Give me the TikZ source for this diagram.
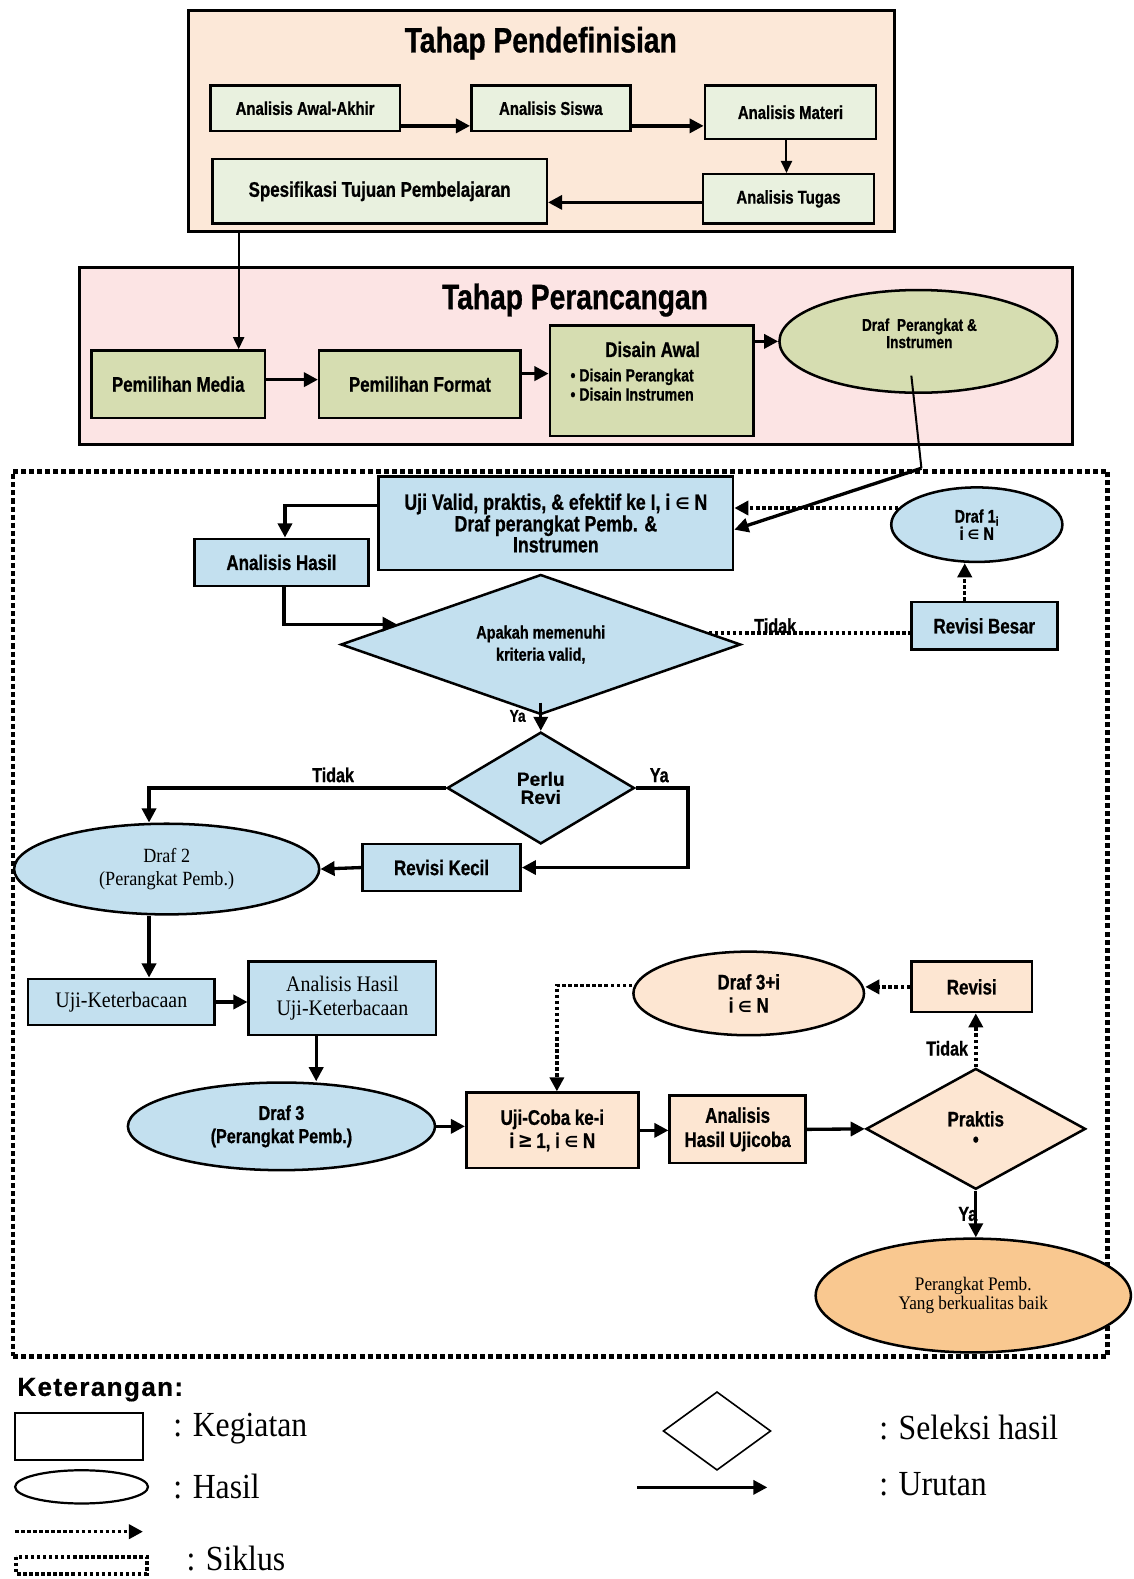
\documentclass[tikz,border=0pt]{standalone}
\usepackage{fontspec}
\setmainfont{Liberation Serif}
\newfontfamily\nb{Liberation Sans Bold}[FakeStretch=0.8,FakeBold=0.8]
\newfontfamily\sbf{Liberation Sans Bold}[FakeBold=0.5]
\newfontfamily\dvs{DejaVu Sans Bold}[Scale=0.72]
\newfontfamily\dvg{DejaVu Sans Bold}[FakeStretch=0.85]
\newfontfamily\nser{Liberation Serif}[FakeStretch=0.9]
\usetikzlibrary{shapes.geometric,arrows.meta}
\definecolor{peachbg}{HTML}{FCE8D8}
\definecolor{greenbox}{HTML}{E9F1DF}
\definecolor{pinkbg}{HTML}{FCE4E4}
\definecolor{olivebox}{HTML}{D6DDB1}
\definecolor{bluebox}{HTML}{C3E0EF}
\definecolor{peachbox}{HTML}{FDE6D2}
\definecolor{orangebox}{HTML}{F9C890}
\newcommand\fsz[2]{\fontsize{#1}{#2}\selectfont}
\newcommand\inN{{\dvs ∈}}
\newcommand\geqN{{\dvg ≥}}
\begin{document}
\begin{tikzpicture}[x=1pt,y=-1pt,
  stageframe/.style={draw, line width=3pt, inner sep=0pt},
  actbox/.style={draw, line width=2.5pt, rectangle, inner sep=0pt, align=center},
  resell/.style={draw, line width=2.5pt, ellipse, inner sep=0pt, align=center},
  seldia/.style={draw, line width=2.5pt, diamond, inner sep=0pt, align=center},
  nbf/.style={font=\nb\fsz{21}{23}},
  arr/.style={line width=3.3pt, -{Triangle[length=14pt,width=14pt]}},
  tarr/.style={line width=2pt, -{Triangle[length=12pt,width=11pt]}},
  dotl/.style={line width=3.5pt, dash pattern=on 3.5pt off 2.5pt},
  dotarr/.style={dotl, -{Triangle[length=14pt,width=14pt]}},
  lbl/.style={font=\nb\fsz{20}{22}, inner sep=0pt},
  legtxt/.style={font=\nser\fsz{35}{38}, anchor=west, inner sep=0pt}
]
\useasboundingbox (0,0) rectangle (1126,1568);
\fill[white] (0,0) rectangle (1126,1568);

% ---------- Tahap Pendefinisian ----------
\node[stageframe, fill=peachbg, minimum width=701pt, minimum height=220pt] (defbox) at (537.5,120) {};
\node[font=\nb\fsz{35}{38}] (t1) at (537,43) {Tahap Pendefinisian};
\node[actbox, fill=greenbox, minimum width=188pt, minimum height=45pt, font=\nb\fsz{18.5}{20}] (aaa) at (303,107.5) {Analisis Awal-Akhir};
\node[actbox, fill=greenbox, minimum width=158pt, minimum height=45pt, font=\nb\fsz{18.5}{20}] (as) at (547,107.5) {Analisis Siswa};
\node[actbox, fill=greenbox, minimum width=170pt, minimum height=53pt, font=\nb\fsz{18.5}{20}] (am) at (785,111.5) {Analisis Materi};
\node[actbox, fill=greenbox, minimum width=170pt, minimum height=49pt, font=\nb\fsz{18.5}{20}] (at) at (783,197.5) {Analisis Tugas};
\node[actbox, fill=greenbox, minimum width=332pt, minimum height=64pt, font=\nb\fsz{21}{23}] (stp) at (377,190) {Spesifikasi Tujuan Pembelajaran};
\draw[arr] ([yshift=-17.5pt]aaa.east) -- ([yshift=-17.5pt]aaa.east -| as.west);
\draw[arr] ([yshift=-17.5pt]as.east) -- ([yshift=-17.5pt]as.east -| am.west);
\draw[tarr] ([xshift=-4pt]am.south) -- ([xshift=-4pt]am.south |- at.north);
\draw[arr] ([yshift=-3.5pt]at.west) -- ([yshift=-3.5pt]at.west -| stp.east);

% ---------- Tahap Perancangan ----------
\node[stageframe, fill=pinkbg, minimum width=986pt, minimum height=175pt] (desbox) at (572,353.5) {};
\node[font=\nb\fsz{35}{38}] (t2) at (571,298) {Tahap Perancangan};
\node[actbox, fill=olivebox, minimum width=172pt, minimum height=67pt, nbf] (pm) at (177,381.5) {Pemilihan Media};
\node[actbox, fill=olivebox, minimum width=200pt, minimum height=67pt, nbf] (pf) at (417,381.5) {Pemilihan Format};
\node[actbox, fill=olivebox, minimum width=202pt, minimum height=110pt] (da) at (647,378) {};
\node[font=\nb\fsz{21}{23}] (dat) at (648,347) {Disain Awal};
\node[font=\nb\fsz{17.5}{19}, align=left, anchor=west] (dab) at (563,382) {\textbullet\ Disain Perangkat\\\textbullet\ Disain Instrumen};
\node[resell, fill=olivebox, minimum width=276pt, minimum height=102pt] (dpi) at (912,339) {};
\node[font=\nb\fsz{17}{17}, align=center] (dpit) at (913,331) {Draf\ \ Perangkat \&\\Instrumen};
\draw[tarr] ([xshift=60pt]pm.north |- defbox.south) -- ([xshift=60pt]pm.north);
\draw[arr] ([yshift=4.5pt]pm.east) -- ([yshift=4.5pt]pm.east -| pf.west);
\draw[arr] ([yshift=10.5pt]pf.east) -- ([yshift=10.5pt]pf.east -| da.west);
\draw[arr] ([yshift=39pt]da.east) -- (dpi.west);

% ---------- Siklus region ----------
\node[draw, line width=4.5pt, dash pattern=on 5pt off 3pt, minimum width=1087pt, minimum height=879pt, inner sep=0pt] (cyc) at (556.5,907.5) {};

\node[actbox, fill=bluebox, minimum width=352pt, minimum height=93pt, font=\nb\fsz{22}{19.5}] (uv) at (552,519.5) {Uji Valid, praktis, \& efektif ke I, i \inN\ N\\Draf perangkat Pemb. \&\\Instrumen};
\node[actbox, fill=bluebox, minimum width=173pt, minimum height=47pt, nbf] (ah) at (279.5,558.5) {Analisis Hasil};
\node[resell, fill=bluebox, minimum width=170pt, minimum height=74pt, font=\nb\fsz{18}{15}] (d1) at (970,521) {Draf 1\textsubscript{i}\\i \inN\ N};
\node[actbox, fill=bluebox, minimum width=145pt, minimum height=47pt, nbf] (rb) at (977.5,621.5) {Revisi Besar};
\node[seldia, fill=bluebox, aspect=2.85, minimum width=397pt, minimum height=139pt, font=\nb\fsz{18}{22}] (ap) at (537,640) {Apakah memenuhi\\kriteria valid,};
\node[seldia, fill=bluebox, aspect=1.68, minimum width=186pt, minimum height=111pt, font=\sbf\fsz{19}{18}] (pr) at (537,782.5) {Perlu\\Revi};
\node[actbox, fill=bluebox, minimum width=157pt, minimum height=47pt, nbf] (rk) at (438.5,861.5) {Revisi Kecil};
\node[resell, fill=bluebox, minimum width=303pt, minimum height=90pt, font=\nser\fsz{20}{22}] (d2) at (165.5,863) {Draf 2\\(Perangkat Pemb.)};
\node[actbox, fill=bluebox, minimum width=185pt, minimum height=46pt, font=\nser\fsz{22}{24}] (uk) at (120.5,995) {Uji-Keterbacaan};
\node[actbox, fill=bluebox, minimum width=186pt, minimum height=73pt, font=\nser\fsz{22}{24}] (ahuk) at (340,991.5) {Analisis Hasil\\Uji-Keterbacaan};
\node[resell, fill=bluebox, minimum width=305pt, minimum height=87pt, font=\nb\fsz{20}{23}] (d3) at (279.5,1118.5) {Draf 3\\(Perangkat Pemb.)};
\node[actbox, fill=peachbox, minimum width=171pt, minimum height=75pt, font=\nb\fsz{21}{23}] (uc) at (548.5,1122.5) {Uji-Coba ke-i\\i\,\geqN\,1, i \inN\ N};
\node[actbox, fill=peachbox, minimum width=135pt, minimum height=67pt, font=\nb\fsz{21}{24}] (ahu) at (732.5,1121.5) {Analisis\\Hasil Ujicoba};
\node[seldia, fill=peachbox, aspect=1.82, minimum width=218pt, minimum height=120pt, font=\nb\fsz{21}{20}] (pk) at (969,1121) {Praktis\\\textbullet};
\node[resell, fill=orangebox, minimum width=313pt, minimum height=113pt, font=\nser\fsz{19}{15}] (pp) at (966.5,1286.5) {Perangkat Pemb.\\Yang berkualitas baik};
\node[actbox, fill=peachbox, minimum width=120pt, minimum height=50pt, nbf] (rv) at (965,980) {Revisi};
\node[resell, fill=peachbox, minimum width=229pt, minimum height=83pt, font=\nb\fsz{21}{23}] (d3i) at (743.5,986.5) {Draf 3+i\\i \inN\ N};

% connectors
\coordinate (bend) at (915,465);
\draw[line width=2pt] ([xshift=-7pt,yshift=-34pt]dpi.center) -- (bend);
\draw[arr] (bend) -- ([yshift=-6.5pt]uv.east);
\draw[dotarr] (d1.168) -- (d1.168 -| uv.east);
\draw[dotarr] ([xshift=-19.5pt]rb.north) -- ([xshift=-19.5pt]rb.north |- d1.south);
\draw[dotl] (ap.4) -- (ap.4 -| rb.west) node[lbl, pos=0.33, yshift=7pt] {Tidak};
\draw[arr] ([yshift=17.5pt]uv.west) -| ([xshift=3.5pt]ah.north);
\draw[arr] ([xshift=2.5pt]ah.south) |- (ap.172.5);
\draw[arr] ([yshift=13pt]ap.south) -- (pr.north);
\node[lbl, font=\nb\fsz{17}{19}] (yaap) at (514,711) {Ya};
\draw[arr] (pr.west) -| ([xshift=-17.5pt]d2.north) node[lbl, pos=0.19, anchor=south, yshift=4pt] {Tidak};
\draw[arr] (pr.east) -- ++(52,0) node[lbl, pos=0.45, anchor=south, yshift=4pt] {Ya} |- (rk.east);
\draw[arr] (rk.west) -- (d2.east);
\draw[arr] ([xshift=-17.5pt]d2.south) -- ([xshift=-17.5pt]d2.south |- uk.north);
\draw[arr] (uk.east) -- (uk.east -| ahuk.west);
\draw[arr] ([xshift=-26pt]ahuk.south) -- ([xshift=-26pt]ahuk.south |- d3.north);
\draw[arr] (d3.east) -- (d3.east -| uc.west);
\draw[arr] (uc.east) -- (uc.east -| ahu.west);
\draw[arr] (ahu.east) -- (pk.west);
\draw[arr] (pk.south) -- (pk.south |- pp.north) node[lbl, pos=0.5, anchor=east, xshift=3pt] {Ya};
\draw[dotarr] (pk.north) -- (pk.north |- rv.south) node[lbl, pos=0.35, anchor=east, xshift=-6pt] {Tidak};
\draw[dotarr] (rv.west) -- (rv.west -| d3i.east);
\draw[dotarr] ([yshift=8pt]d3i.west) -| ([xshift=4.5pt]uc.north);

% ---------- Legend ----------
\node[font=\sbf\fsz{26}{30}\addfontfeatures{LetterSpace=5}, anchor=west, inner sep=0pt] (ket) at (17,1380) {Keterangan:};
\node[draw, line width=2.2pt, minimum width=127pt, minimum height=47pt, inner sep=0pt] (lgr) at (78.5,1426.5) {};
\node[legtxt] (lgrt) at (172,1419) {: Kegiatan};
\node[draw, ellipse, line width=2.2pt, minimum width=132pt, minimum height=33pt, inner sep=0pt] (lge) at (81,1476.5) {};
\node[legtxt] (lget) at (172,1476) {: Hasil};
\coordinate (lds) at (15,1521);
\coordinate (lde) at (142,1521);
\draw[dotarr] (lds) -- (lde);
\draw[dotl] (16,1546) rectangle (146,1563);
\node[legtxt] (lst) at (185,1548) {: Siklus};
\node[draw, diamond, line width=1.6pt, aspect=1.37, minimum width=107pt, minimum height=78pt, inner sep=0pt] (lgd) at (712,1421) {};
\node[legtxt] (lgdt) at (873,1418) {: Seleksi hasil};
\coordinate (las) at (633,1477);
\coordinate (lae) at (762,1477);
\draw[arr] (las) -- (lae);
\node[legtxt] (lat) at (873,1474) {: Urutan};
\end{tikzpicture}
\end{document}
